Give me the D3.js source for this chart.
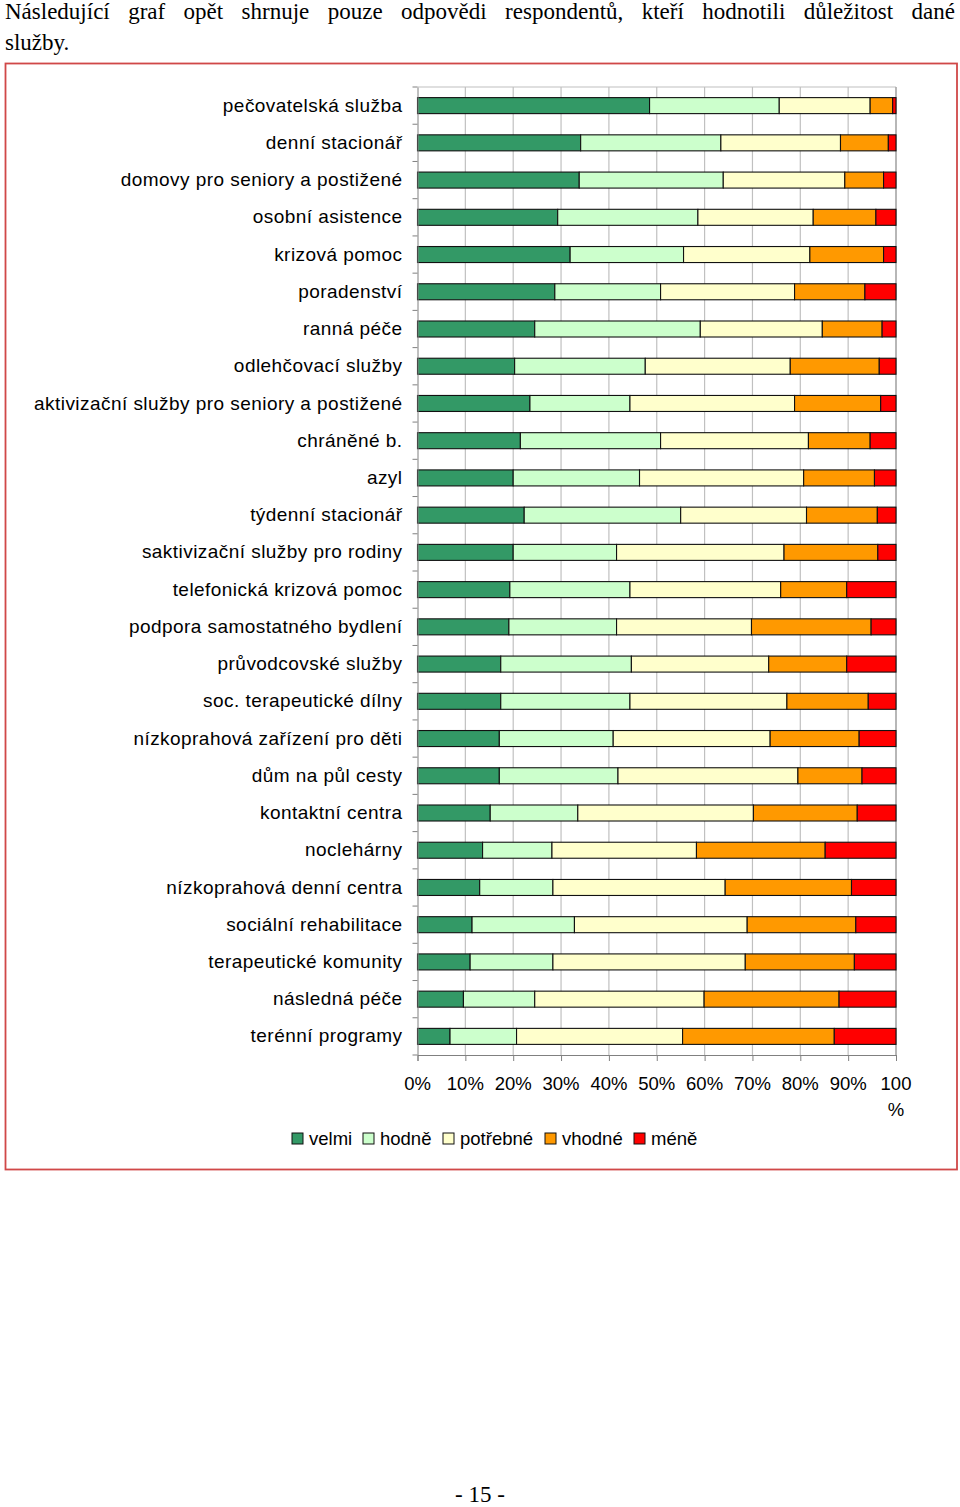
<!DOCTYPE html>
<html>
<head>
<meta charset="utf-8">
<script src="https://cdn.jsdelivr.net/npm/d3@7/dist/d3.min.js"></script>
<style>
  html, body { margin: 0; padding: 0; background: #fff; }
  #page { position: relative; width: 960px; height: 1507px; overflow: hidden; }
  .para { position: absolute; left: 5px; width: 950px; font-family: "Liberation Serif", "Times New Roman", serif; font-size: 23px; color: #000; white-space: nowrap; }
  .just { text-align: justify; text-align-last: justify; white-space: normal; }
  svg { position: absolute; left: 0; top: 0; }
</style>
</head>
<body>
<div id="page">
  <svg id="chart" width="960" height="1507"></svg>
  <div class="para just" style="top:-1px;">Následující graf opět shrnuje pouze odpovědi respondentů, kteří hodnotili důležitost dané</div>
  <div class="para" style="top:30px;">služby.</div>
</div>
<script>
// ---- data (percent shares) ----
const categories = [
  "pečovatelská služba", "denní stacionář", "domovy pro seniory a postižené", "osobní asistence",
  "krizová pomoc", "poradenství", "ranná péče", "odlehčovací služby",
  "aktivizační služby pro seniory a postižené", "chráněné b.", "azyl", "týdenní stacionář",
  "saktivizační služby pro rodiny", "telefonická krizová pomoc", "podpora samostatného bydlení",
  "průvodcovské služby", "soc. terapeutické dílny", "nízkoprahová zařízení pro děti",
  "dům na půl cesty", "kontaktní centra", "noclehárny", "nízkoprahová denní centra",
  "sociální rehabilitace", "terapeutické komunity", "následná péče", "terénní programy"
];
const seriesNames = ["velmi", "hodně", "potřebné", "vhodné", "méně"];
const velmi    = [48.5, 34.1, 33.8, 29.3, 31.9, 28.7, 24.5, 20.3, 23.5, 21.5, 20.0, 22.3, 20.0, 19.3, 19.1, 17.4, 17.4, 17.1, 17.1, 15.2, 13.6, 13.0, 11.4, 11.0, 9.6, 6.8];
const hodne    = [27.1, 29.3, 30.1, 29.3, 23.7, 22.1, 34.6, 27.3, 20.9, 29.3, 26.4, 32.7, 21.6, 25.1, 22.5, 27.3, 27.0, 23.8, 24.8, 18.3, 14.5, 15.3, 21.4, 17.3, 14.9, 13.9];
const potrebne = [19.0, 25.0, 25.4, 24.1, 26.4, 28.0, 25.5, 30.3, 34.4, 30.9, 34.3, 26.3, 35.0, 31.5, 28.2, 28.7, 32.8, 32.8, 37.6, 36.7, 30.2, 36.0, 36.1, 40.2, 35.4, 34.7];
const vhodne   = [4.7, 10.0, 8.1, 13.1, 15.4, 14.7, 12.5, 18.6, 18.0, 12.9, 14.8, 14.8, 19.6, 13.8, 25.0, 16.3, 17.0, 18.6, 13.4, 21.7, 26.9, 26.4, 22.7, 22.8, 28.2, 31.7];
const mene     = [0.7, 1.6, 2.6, 4.2, 2.6, 6.5, 2.9, 3.5, 3.2, 5.4, 4.5, 3.9, 3.8, 10.3, 5.2, 10.3, 5.8, 7.7, 7.1, 8.1, 14.8, 9.3, 8.4, 8.7, 11.9, 12.9];
const tickLabels = ["0%", "10%", "20%", "30%", "40%", "50%", "60%", "70%", "80%", "90%", "100 %"];
const colors = ["#339966", "#CCFFCC", "#FFFFCC", "#FF9900", "#FF0000"];

// ---- build table ----
const seriesData = [velmi, hodne, potrebne, vhodne, mene];
const rows = categories.map((c, i) => {
  const o = { cat: c };
  seriesNames.forEach((s, k) => o[s] = seriesData[k][i]);
  return o;
});
const stack = d3.stack().keys(seriesNames).offset(d3.stackOffsetExpand);
const stacked = stack(rows);

const svg = d3.select("#chart");
svg.append("rect").attr("width", 960).attr("height", 1507).attr("fill", "#fff");

// frame
svg.append("rect").attr("x", 5.5).attr("y", 63.5).attr("width", 951.5).attr("height", 1106)
  .attr("fill", "none").attr("stroke", "#D04848").attr("stroke-width", 1.8);

const pLeft = 417.5, pRight = 896, pTop = 87, pBottom = 1055;
const x = d3.scaleLinear().domain([0, 1]).range([pLeft, pRight]);
const y = d3.scaleBand().domain(categories).range([pTop, pBottom]).paddingInner(0.57).paddingOuter(0.285);

// gridlines
const ticks = d3.range(0, 11).map(d => d / 10);
svg.append("g").selectAll("line").data(ticks.slice(1)).join("line")
  .attr("x1", d => x(d)).attr("x2", d => x(d)).attr("y1", pTop).attr("y2", pBottom)
  .attr("stroke", "#C0C0C0").attr("stroke-width", 1.2);
svg.append("line").attr("x1", pLeft).attr("x2", pRight).attr("y1", pTop).attr("y2", pTop)
  .attr("stroke", "#C0C0C0").attr("stroke-width", 1.2);
svg.append("line").attr("x1", pRight).attr("x2", pRight).attr("y1", pTop).attr("y2", pBottom)
  .attr("stroke", "#A0A0A0").attr("stroke-width", 1.2);

// bars
svg.append("g").selectAll("g").data(stacked).join("g")
  .attr("fill", (d, i) => colors[i])
  .selectAll("rect").data(d => d).join("rect")
  .attr("x", d => x(d[0]))
  .attr("width", d => Math.max(0, x(d[1]) - x(d[0])))
  .attr("y", d => y(d.data.cat))
  .attr("height", y.bandwidth())
  .attr("stroke", "#111").attr("stroke-width", 1.1);

// left axis
const yAxis = d3.axisLeft(y).tickSize(0).tickPadding(15);
const gy = svg.append("g").attr("transform", `translate(${pLeft},0)`).call(yAxis);
gy.select(".domain").attr("stroke", "#808080");
gy.selectAll("text").attr("font-family", "Liberation Sans, Arial, sans-serif").attr("font-size", 19)
  .attr("letter-spacing", "0.45px").attr("fill", "#000");
const step = y.step();
svg.append("g").selectAll("line").data(d3.range(0, categories.length + 1)).join("line")
  .attr("x1", pLeft - 5).attr("x2", pLeft)
  .attr("y1", i => pTop + i * step).attr("y2", i => pTop + i * step)
  .attr("stroke", "#808080");

// bottom axis
const xAxis = d3.axisBottom(x).tickValues(ticks).tickSize(6).tickFormat(() => "");
const gx = svg.append("g").attr("transform", `translate(0,${pBottom})`).call(xAxis);
gx.select(".domain").attr("stroke", "#808080");
gx.selectAll(".tick line").attr("stroke", "#808080");
const tl = svg.append("g").attr("font-family", "Liberation Sans, Arial, sans-serif").attr("font-size", 18.5).attr("text-anchor", "middle");
tickLabels.forEach((t, i) => {
  t.split(" ").forEach((p, j) => {
    tl.append("text").attr("x", x(ticks[i])).attr("y", 1090 + j * 26).text(p);
  });
});

// legend
const legendX = [292, 363, 443, 545, 634];
const lg = svg.append("g");
seriesNames.forEach((s, i) => {
  lg.append("rect").attr("x", legendX[i]).attr("y", 1133).attr("width", 11).attr("height", 11)
    .attr("fill", colors[i]).attr("stroke", "#111").attr("stroke-width", 1);
  lg.append("text").attr("x", legendX[i] + 17).attr("y", 1144.5)
    .attr("font-family", "Liberation Sans, Arial, sans-serif").attr("font-size", 18.5).text(s);
});

// page number
svg.append("text").attr("x", 480).attr("y", 1502).attr("text-anchor", "middle")
  .attr("font-family", "Liberation Serif, Times New Roman, serif").attr("font-size", 23).text("- 15 -");
</script>
</body>
</html>
